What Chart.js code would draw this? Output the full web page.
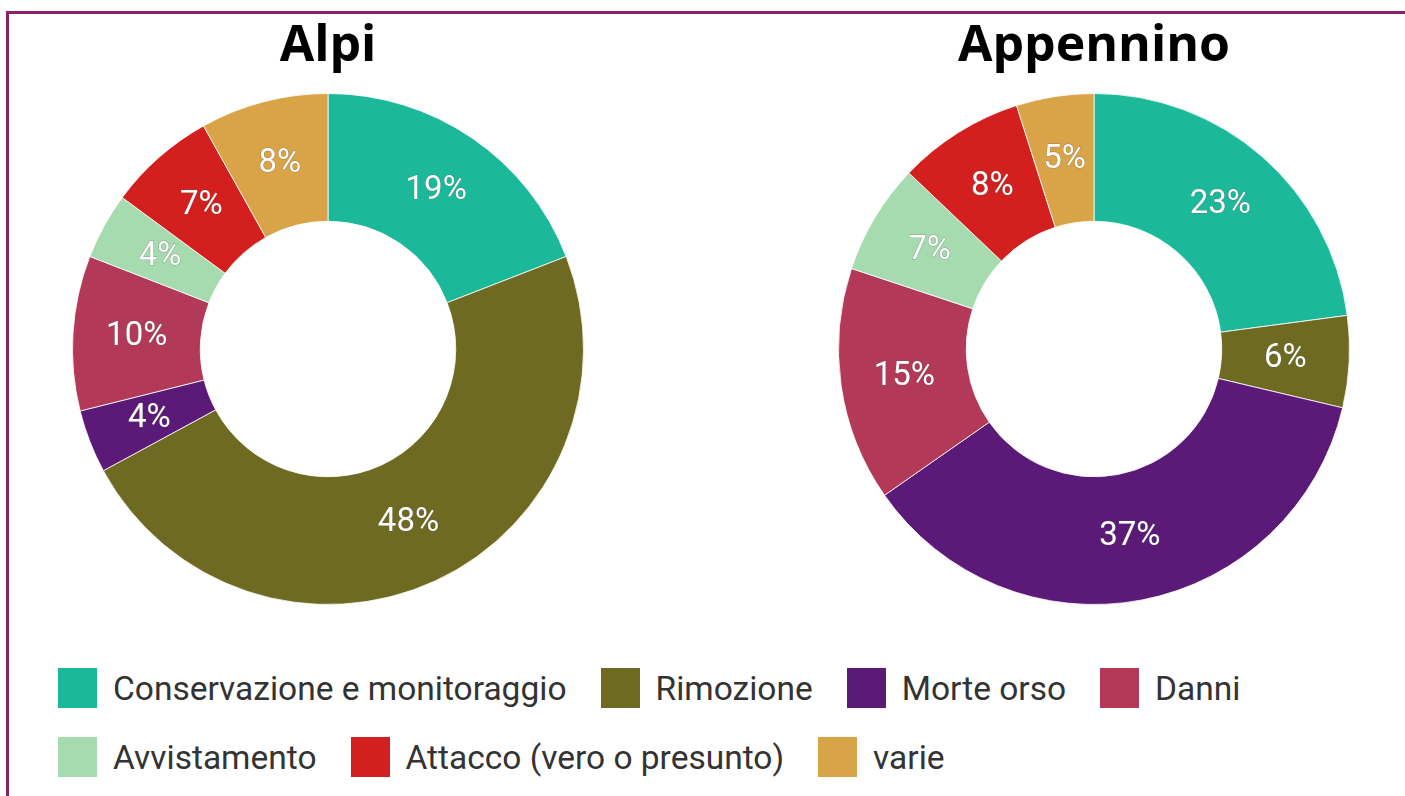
<!DOCTYPE html>
<html lang="it">
<head>
    <meta charset="UTF-8">
    <title>Orso - Alpi e Appennino</title>
    <script src="https://cdn.jsdelivr.net/npm/chart.js"></script>
    <style>
        body {
            margin: 0;
            width: 1405px;
            height: 796px;
            background: #ffffff;
            position: relative;
            overflow: hidden;
            font-family: Roboto, sans-serif;
        }
        .frame {
            position: absolute;
            left: 6px;
            top: 11px;
            right: -10px;
            bottom: -10px;
            border-top: 3px solid #8b2466;
            border-left: 3px solid #8b2466;
        }
        .chart-box {
            position: absolute;
            top: 10px;
            width: 512px;
            height: 595px;
        }
        #legend {
            position: absolute;
            left: 58px;
            top: 668px;
            width: 1340px;
        }
        .legend-row {
            display: flex;
            align-items: center;
            height: 40px;
            margin-bottom: 29px;
        }
        .legend-item {
            display: flex;
            align-items: center;
            margin-right: 34px;
        }
        .legend-box {
            width: 39px;
            height: 40px;
            margin-right: 16px;
        }
        .legend-text {
            font-size: 33.5px;
            color: #333333;
            white-space: nowrap;
        }
    </style>
</head>
<body>
    <div class="frame"></div>
    <div class="chart-box" style="left: 72px;"><canvas id="alpiChart"></canvas></div>
    <div class="chart-box" style="left: 838px;"><canvas id="appChart"></canvas></div>
    <div id="legend"></div>
    <script>
        var categories = ['Conservazione e monitoraggio', 'Rimozione', 'Morte orso', 'Danni',
                          'Avvistamento', 'Attacco (vero o presunto)', 'varie'];
        var colors = ['#1bb99a', '#6e6a22', '#5c1a78', '#b23a58', '#a6dbb0', '#d41f1f', '#d9a448'];
        var alpiValues = [19.1, 48.0, 4.0, 9.8, 4.2, 6.8, 8.1];
        var appenninoValues = [22.9, 5.8, 36.6, 14.8, 7.0, 8.0, 4.9];
        var legendRows = [[0, 1, 2, 3], [4, 5, 6]];

        // draws the percentage inside each slice
        var sliceLabels = {
            id: 'sliceLabels',
            afterDatasetsDraw: function(chart) {
                var ctx = chart.ctx;
                var data = chart.data.datasets[0].data;
                var total = data.reduce((a, b) => a + b, 0);
                ctx.save();
                ctx.font = '33px Roboto';
                ctx.textAlign = 'center';
                ctx.textBaseline = 'middle';
                ctx.lineWidth = 1;
                ctx.strokeStyle = 'rgba(90, 90, 90, 0.45)';
                ctx.fillStyle = '#ffffff';
                chart.getDatasetMeta(0).data.forEach(function(arc, i) {
                    var pos = arc.tooltipPosition();
                    var txt = Math.round(data[i] / total * 100) + '%';
                    ctx.strokeText(txt, pos.x, pos.y);
                    ctx.fillText(txt, pos.x, pos.y);
                });
                ctx.restore();
            }
        };

        function makeDonut(id, title, values) {
            return new Chart(document.getElementById(id), {
                type: 'doughnut',
                data: {
                    labels: categories,
                    datasets: [{
                        data: values,
                        backgroundColor: colors,
                        borderColor: 'rgba(255, 255, 255, 0.8)',
                        borderWidth: 1
                    }]
                },
                options: {
                    responsive: true,
                    maintainAspectRatio: false,
                    animation: false,
                    cutout: '50%',
                    layout: { padding: 0 },
                    plugins: {
                        legend: { display: false },
                        tooltip: { enabled: false },
                        title: {
                            display: true,
                            text: title,
                            color: '#000000',
                            font: { family: 'Open Sans', size: 50, weight: 'bold', lineHeight: 1.2 },
                            padding: { top: 6.5, bottom: 16.5 }
                        }
                    }
                },
                plugins: [sliceLabels]
            });
        }

        makeDonut('alpiChart', 'Alpi', alpiValues);
        makeDonut('appChart', 'Appennino', appenninoValues);

        // legend built from the same arrays
        var legend = document.getElementById('legend');
        legendRows.forEach(function(row) {
            var rowDiv = document.createElement('div');
            rowDiv.className = 'legend-row';
            row.forEach(function(i) {
                var item = document.createElement('div');
                item.className = 'legend-item';
                var box = document.createElement('div');
                box.className = 'legend-box';
                box.style.background = colors[i];
                var txt = document.createElement('span');
                txt.className = 'legend-text';
                txt.textContent = categories[i];
                item.appendChild(box);
                item.appendChild(txt);
                rowDiv.appendChild(item);
            });
            legend.appendChild(rowDiv);
        });
    </script>
</body>
</html>
